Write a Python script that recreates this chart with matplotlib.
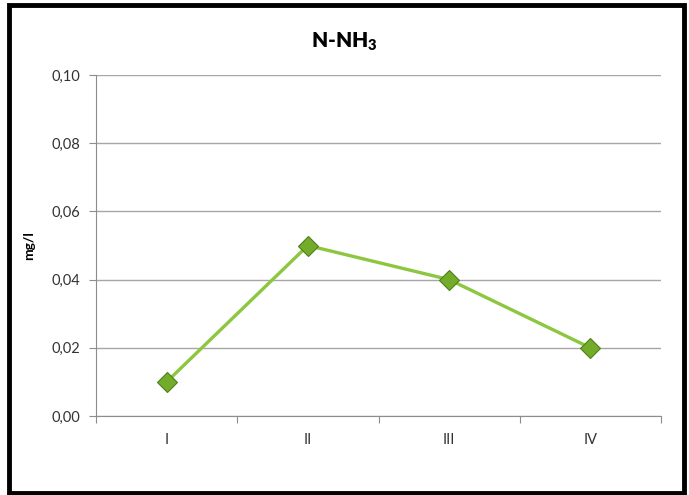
import matplotlib
matplotlib.use('Agg')
import matplotlib.pyplot as plt
from matplotlib.patches import Rectangle

plt.rcParams['font.family'] = ['Lato', 'DejaVu Sans']
plt.rcParams['mathtext.default'] = 'regular'

# dane
categories = ['I', 'II', 'III', 'IV']
values = [0.01, 0.05, 0.04, 0.02]
y_ticks = [0.00, 0.02, 0.04, 0.06, 0.08, 0.10]

fig = plt.figure(figsize=(6.89, 4.95), dpi=100)
ax = fig.add_axes([96/689, 1-416/495, (661-96)/689, (416-75)/495])

x = list(range(len(categories)))
ax.plot(x, values, color='#8DC63F', lw=2.4, zorder=3)
ax.plot(x, values, ls='none', marker='D', markersize=10.5,
        markerfacecolor='#72AC2A', markeredgecolor='#4F7F1A', markeredgewidth=0.8, zorder=4)

ax.set_xlim(-0.5, len(categories) - 0.5)
ax.set_ylim(0, 0.10)
ax.set_yticks(y_ticks)
ax.set_yticklabels([('%.2f' % v).replace('.', ',') for v in y_ticks])
ax.set_xticks([i - 0.5 for i in range(len(categories) + 1)])
ax.set_xticklabels([])
ax.set_xticks(x, minor=True)
ax.set_xticklabels(categories, minor=True)
ax.tick_params(axis='x', which='minor', length=0, pad=12, labelsize=10.5, colors='#333333')
ax.tick_params(axis='x', which='major', length=5, color='#8C8C8C', direction='out')
ax.tick_params(axis='y', length=5, color='#8C8C8C', labelsize=10.5, labelcolor='#333333', pad=6)

ax.grid(axis='y', color='#A6A6A6', lw=1)
ax.set_axisbelow(True)
for s in ['top', 'right']:
    ax.spines[s].set_visible(False)
ax.spines['left'].set_color('#8C8C8C')
ax.spines['bottom'].set_color('#8C8C8C')

ax.set_ylabel('mg/l', fontsize=10, fontweight='bold', labelpad=12)
fig.text(0.5, 1-42/495, 'N-NH$_3$', ha='center', va='center', fontsize=15, fontweight='heavy')

# czarna ramka
fig.patches.append(Rectangle((8.5/689, 2/495), (684-8.5)/689, (490-2)/495, transform=fig.transFigure,
                             fill=False, edgecolor='black', lw=3.5))

plt.savefig('out.png', dpi=100)
